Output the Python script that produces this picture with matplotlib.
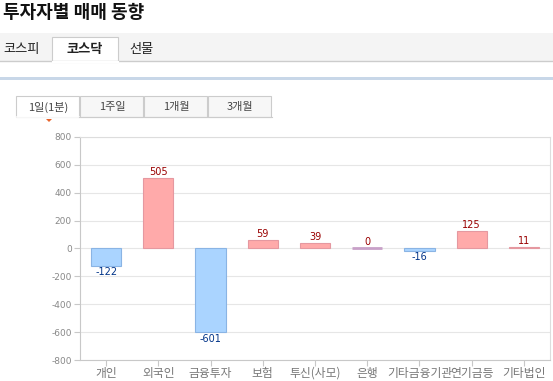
import matplotlib
matplotlib.use("Agg")
import matplotlib.pyplot as plt
from matplotlib.patches import Rectangle, Polygon

plt.rcParams['font.family'] = ['Noto Sans CJK KR', 'DejaVu Sans']

categories = ['개인', '외국인', '금융투자', '보험', '투신(사모)', '은행', '기타금융기관', '연기금등', '기타법인']
values = [-122, 505, -601, 59, 39, 0, -16, 125, 11]
yticks = [800, 600, 400, 200, 0, -200, -400, -600, -800]
title = '투자자별 매매 동향'
main_tabs = ['코스피', '코스닥', '선물']
sub_tabs = ['1일(1분)', '1주일', '1개월', '3개월']

W, H = 553, 381
fig = plt.figure(figsize=(W / 100, H / 100), dpi=100)
fig.patch.set_facecolor('white')

def fx(x):
    return x / W

def fy(y):
    return 1 - y / H

# Title
fig.text(fx(3), fy(12), title, fontsize=13, fontweight='bold', color='#111111',
         ha='left', va='center')

# Main tab bar
fig.patches.append(Rectangle((fx(0), fy(61)), 1, (61 - 33) / H, transform=fig.transFigure,
                             facecolor='#F4F4F4', edgecolor='none', zorder=0))
fig.add_artist(plt.Line2D([0, 1], [fy(61), fy(61)], transform=fig.transFigure,
                          color='#CCCCCC', lw=1))
# selected tab
fig.patches.append(Rectangle((fx(52), fy(62)), (118 - 52) / W, (62 - 37) / H,
                             transform=fig.transFigure, facecolor='white',
                             edgecolor='#CCCCCC', lw=0.8, zorder=1))
fig.add_artist(plt.Line2D([fx(52.5), fx(117.5)], [fy(61.5), fy(61.5)], transform=fig.transFigure,
                          color='white', lw=1.5, zorder=2))
tab_x = [22, 85, 141]
for i, (t, x) in enumerate(zip(main_tabs, tab_x)):
    fig.text(fx(x), fy(49), t, fontsize=9.5, ha='center', va='center',
             color='#222222', fontweight='bold' if i == 1 else 'normal', zorder=3)

# Blue separator line
fig.patches.append(Rectangle((0, fy(80)), 1, 3 / H, transform=fig.transFigure,
                             facecolor='#C8D7E8', edgecolor='none'))

# Sub tabs
sub_x0 = [16, 80, 144, 208]
for i, (t, x0) in enumerate(zip(sub_tabs, sub_x0)):
    fc = 'white' if i == 0 else '#F7F7F7'
    fig.patches.append(Rectangle((fx(x0), fy(117)), 63 / W, (117 - 96) / H,
                                 transform=fig.transFigure, facecolor=fc,
                                 edgecolor='#CCCCCC', lw=0.8))
    fig.text(fx(x0 + 32), fy(107), t, fontsize=8, ha='center', va='center', color='#444444')
fig.add_artist(plt.Line2D([fx(16.5), fx(78.5)], [fy(117), fy(117)], transform=fig.transFigure,
                          color='white', lw=1.2))
fig.add_artist(plt.Line2D([fx(79), fx(272)], [fy(117), fy(117)], transform=fig.transFigure,
                          color='#CCCCCC', lw=0.8))
fig.patches.append(Polygon([[fx(46), fy(119)], [fx(52), fy(119)], [fx(49), fy(122)]],
                           closed=True, transform=fig.transFigure,
                           facecolor='#E8642C', edgecolor='none'))

# Chart axes
ax = fig.add_axes([fx(80), fy(360), (550 - 80) / W, (360 - 137) / H])
x = list(range(len(categories)))
pos_fc, pos_ec = '#FFAAAA', '#E598A0'
neg_fc, neg_ec = '#AAD4FF', '#8AB4E4'
zero_c = '#C8A0C8'
for xi, v in zip(x, values):
    if v > 0:
        ax.bar(xi, v, width=0.58, color=pos_fc, edgecolor=pos_ec, lw=0.8, zorder=3)
        ax.text(xi, v + 8, str(v), ha='center', va='bottom', fontsize=7,
                color='#990000', family=['DejaVu Sans'], zorder=4)
    elif v < 0:
        ax.bar(xi, v, width=0.58, color=neg_fc, edgecolor=neg_ec, lw=0.8, zorder=3)
        ax.text(xi, v - 10, str(v), ha='center', va='top', fontsize=7,
                color='#003388', family=['DejaVu Sans'], zorder=4)
    else:
        ax.bar(xi, v, width=0.58, color=zero_c, edgecolor=zero_c, lw=2, zorder=3)
        ax.text(xi, v + 10, str(v), ha='center', va='bottom', fontsize=7,
                color='#990000', family=['DejaVu Sans'], zorder=4)

ax.set_xlim(-0.5, len(categories) - 0.5)
ax.set_ylim(-800, 800)
ax.set_yticks(yticks)
ax.set_yticklabels([str(t) for t in yticks], family=['DejaVu Sans'])
ax.set_xticks(x)
ax.set_xticklabels(categories)
ax.grid(axis='y', color='#E6E6E6', lw=0.8, zorder=0)
ax.set_axisbelow(True)
for s in ['left', 'bottom']:
    ax.spines[s].set_color('#C8C8C8')
for s in ['top', 'right']:
    ax.spines[s].set_color('#DDDDDD')
for s in ax.spines.values():
    s.set_linewidth(0.8)
ax.tick_params(axis='y', colors='#C8C8C8', labelcolor='#888888', labelsize=6.5, length=4, width=0.8, pad=2)
ax.tick_params(axis='x', colors='#C8C8C8', labelcolor='#777777', labelsize=8.5, length=4, width=0.8, pad=1)

fig.savefig('out.png', dpi=100)
